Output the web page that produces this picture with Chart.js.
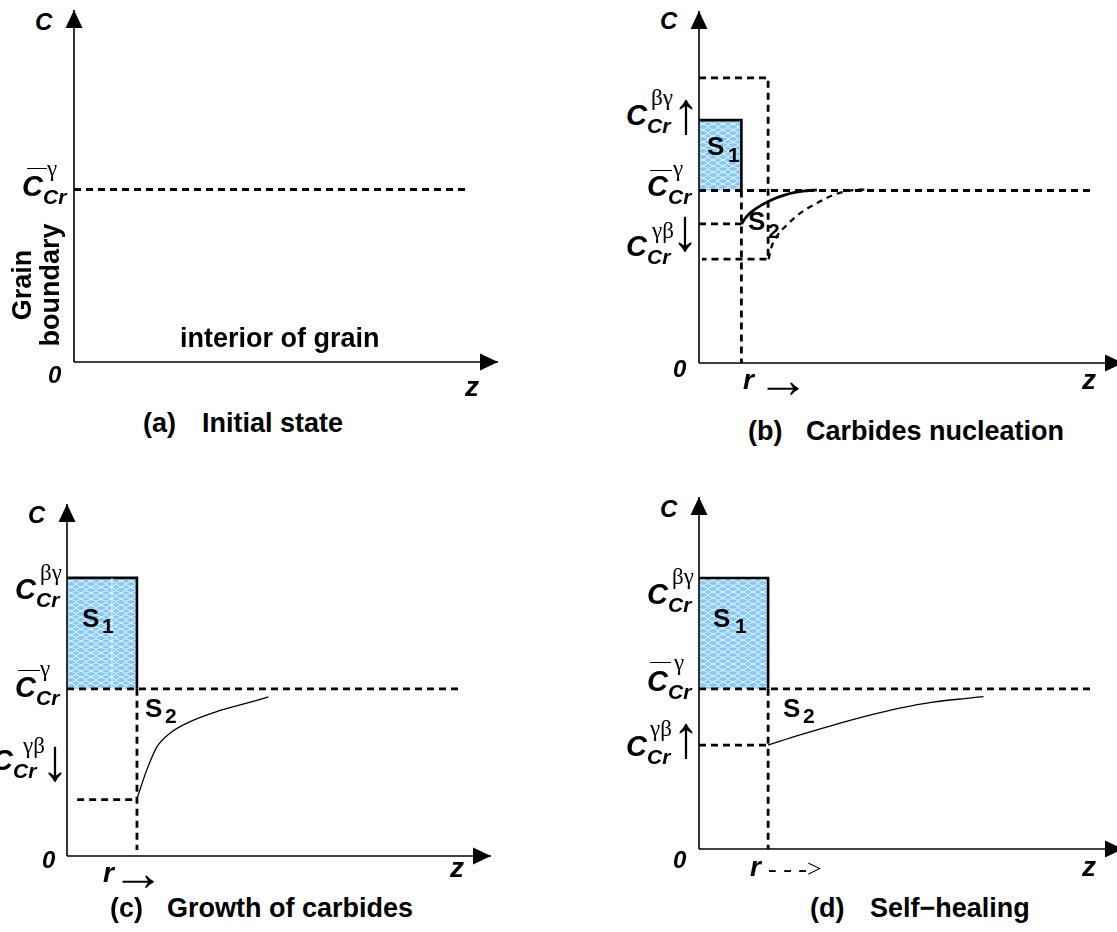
<!DOCTYPE html>
<html>
<head>
<meta charset="utf-8">
<script src="https://cdn.jsdelivr.net/npm/chart.js@4"></script>
<style>
  body { margin: 0; background: #fff; overflow: hidden; }
  #page { position: relative; width: 1117px; height: 932px; overflow: hidden; background: #fff; }
  #page canvas { position: absolute; }
  .t { position: absolute; line-height: 1; white-space: pre; color: #000; z-index: 2; }
  .bi { font-family: "Liberation Sans", Arial, sans-serif; font-weight: bold; font-style: italic; }
  .b { font-family: "Liberation Sans", Arial, sans-serif; font-weight: bold; }
  .g { font-family: "Liberation Serif", "Times New Roman", serif; }
  .vup { transform: scale(1.5, 1.65); }
  .hr { transform: scale(1.55, 1.5); transform-origin: left center; }
  .bar { position: absolute; height: 0; border-top: 1.5px solid #000; z-index: 2; }
  .gb { position: absolute; line-height: 28px; text-align: center; font-size: 27px; z-index: 2;
        transform: translate(-50%, -50%) rotate(-90deg); }
</style>
</head>
<body>
<div id="page"></div>
<script>
// axis ranges (schematic units)
const zRange = [0, 10];
const cRange = [0, 10];

// (a) initial state
const aMean = 4.9;
const aMeanEnd = 9.3;

// (b) carbides nucleation
const bMean = 4.9;
const bCarbideTop = 6.9;
const bR = 1.0;
const bInterface = 3.95;
const bTrialTop = 8.1;
const bTrialR = 1.63;
const bTrialLow = 2.95;
const bCurveZ = [1.0, 1.12, 1.36, 1.67, 2.07, 2.45, 2.78];
const bCurveC = [3.95, 4.16, 4.4, 4.61, 4.79, 4.88, 4.92];
const bTrialCurveZ = [1.64, 1.71, 1.83, 2.07, 2.38, 2.78, 3.16, 3.63, 3.96];
const bTrialCurveC = [2.95, 3.3, 3.59, 3.92, 4.25, 4.54, 4.77, 4.91, 4.93];

// (c) growth of carbides
const cMean = 4.75;
const cCarbideTop = 7.9;
const cR = 1.65;
const cInterface = 1.6;
const cCurveZ = [1.64, 1.72, 1.88, 2.12, 2.43, 2.82, 3.53, 4.24, 4.75];
const cCurveC = [1.59, 1.88, 2.44, 3.1, 3.49, 3.77, 4.1, 4.34, 4.52];

// (d) self-healing
const dMean = 4.55;
const dCarbideTop = 7.7;
const dR = 1.63;
const dInterface = 2.95;
const dCurveZ = [1.63, 2.38, 3.17, 3.96, 4.74, 5.52, 6.31, 6.71];
const dCurveC = [2.95, 3.24, 3.52, 3.78, 4.0, 4.17, 4.28, 4.33];

const meanEnd = 9.3;

// ---------- helpers ----------
const page = document.getElementById("page");
const AXIS_W = 424, AXIS_H = 352, PAD = 16;

function pts(zs, cs) {
  return zs.map((z, i) => ({ x: z, y: cs[i] }));
}

function meshPattern(ctx) {
  const c = document.createElement("canvas");
  c.width = 10; c.height = 6;
  const g = c.getContext("2d");
  g.fillStyle = "#86c8f6";
  g.fillRect(0, 0, 10, 6);
  g.strokeStyle = "rgba(255,255,255,0.8)";
  g.lineWidth = 1;
  g.beginPath();
  g.moveTo(0, 3); g.lineTo(5, 0.5); g.lineTo(10, 3);
  g.moveTo(0, 3); g.lineTo(5, 5.5); g.lineTo(10, 3);
  g.stroke();
  return ctx.createPattern(c, "repeat");
}

const dashed = (data, extra) => Object.assign({
  data, borderColor: "#000", borderWidth: 2.8, borderDash: [7, 5], order: 2
}, extra);
const solid = (data, width, extra) => Object.assign({
  data, borderColor: "#000", borderWidth: width, order: 1
}, extra);

function axes() {
  return [
    solid([{ x: 0, y: 0 }, { x: zRange[1], y: 0 }], 1.6, { arrow: true }),
    solid([{ x: 0, y: 0 }, { x: 0, y: cRange[1] }], 1.6, { arrow: true })
  ];
}

function carbide(ctx, top, r, mean) {
  return {
    data: [{ x: 0, y: top }, { x: r, y: top }, { x: r, y: mean }],
    borderColor: "#000", borderWidth: 2.6,
    backgroundColor: meshPattern(ctx),
    fill: { value: mean }, order: 10
  };
}

const arrowHeads = {
  id: "arrowHeads",
  afterDatasetsDraw(chart) {
    const ctx = chart.ctx;
    chart.data.datasets.forEach((ds, i) => {
      if (!ds.arrow) return;
      const els = chart.getDatasetMeta(i).data;
      const a = els[els.length - 2], b = els[els.length - 1];
      const ang = Math.atan2(b.y - a.y, b.x - a.x);
      ctx.save();
      ctx.translate(b.x, b.y);
      ctx.rotate(ang);
      ctx.beginPath();
      ctx.moveTo(0, 0);
      ctx.lineTo(-18, -8.5);
      ctx.lineTo(-18, 8.5);
      ctx.closePath();
      ctx.fillStyle = "#000";
      ctx.fill();
      ctx.restore();
    });
  }
};

function panel(ox, oy, buildDatasets) {
  const cv = document.createElement("canvas");
  cv.width = AXIS_W + 2 * PAD;
  cv.height = AXIS_H + 2 * PAD;
  cv.style.left = (ox - PAD) + "px";
  cv.style.top = (oy - AXIS_H - PAD) + "px";
  page.appendChild(cv);
  const ctx = cv.getContext("2d");
  const datasets = buildDatasets(ctx).map(ds => Object.assign({
    showLine: true, pointRadius: 0, pointHitRadius: 0, tension: 0,
    fill: false, clip: false
  }, ds));
  new Chart(cv, {
    type: "scatter",
    data: { datasets },
    options: {
      responsive: false,
      animation: false,
      devicePixelRatio: 1,
      events: [],
      layout: { padding: PAD },
      plugins: { legend: { display: false }, tooltip: { enabled: false } },
      scales: {
        x: { type: "linear", display: false, min: zRange[0], max: zRange[1] },
        y: { type: "linear", display: false, min: cRange[0], max: cRange[1] }
      }
    },
    plugins: [arrowHeads]
  });
}

// ---------- charts ----------
panel(74, 362, () => [
  ...axes(),
  dashed([{ x: 0, y: aMean }, { x: aMeanEnd, y: aMean }])
]);

panel(699, 363, (ctx) => [
  ...axes(),
  carbide(ctx, bCarbideTop, bR, bMean),
  dashed([{ x: 0, y: bMean }, { x: meanEnd, y: bMean }]),
  dashed([{ x: 0, y: bTrialTop }, { x: bTrialR, y: bTrialTop }, { x: bTrialR, y: bTrialLow }, { x: 0.07, y: bTrialLow }]),
  dashed([{ x: 0, y: bInterface }, { x: bR, y: bInterface }]),
  dashed([{ x: bR, y: bMean }, { x: bR, y: 0 }]),
  solid(pts(bCurveZ, bCurveC), 2.8, { cubicInterpolationMode: "monotone" }),
  dashed(pts(bTrialCurveZ, bTrialCurveC), { borderWidth: 2.3, borderDash: [6, 5], cubicInterpolationMode: "monotone" })
]);

panel(67, 856, (ctx) => [
  ...axes(),
  carbide(ctx, cCarbideTop, cR, cMean),
  solid([{ x: 1.06, y: cMean }, { x: 1.06, y: cCarbideTop }], 1, { borderColor: "rgba(255,255,255,0.9)", order: 5 }),
  dashed([{ x: 0, y: cMean }, { x: meanEnd, y: cMean }]),
  dashed([{ x: 0.24, y: cInterface }, { x: cR, y: cInterface }]),
  dashed([{ x: cR, y: cMean }, { x: cR, y: 0.17 }]),
  solid(pts(cCurveZ, cCurveC), 1.3, { cubicInterpolationMode: "monotone" })
]);

panel(699, 849, (ctx) => [
  ...axes(),
  carbide(ctx, dCarbideTop, dR, dMean),
  dashed([{ x: 0, y: dMean }, { x: meanEnd, y: dMean }]),
  dashed([{ x: 0, y: dInterface }, { x: dR, y: dInterface }]),
  dashed([{ x: dR, y: dMean }, { x: dR, y: 0 }]),
  solid(pts(dCurveZ, dCurveC), 1.3, { cubicInterpolationMode: "monotone" })
]);

// ---------- text ----------
const ASC = { bi: 0.846, b: 0.846, g: 0.838, "g vup": 0.838, "g hr": 0.838 };
function put(text, x, base, size, cls) {
  const s = document.createElement("span");
  s.className = "t " + cls;
  s.textContent = text;
  s.style.fontSize = size + "px";
  s.style.left = x + "px";
  s.style.top = (base - ASC[cls] * size) + "px";
  page.appendChild(s);
  return s;
}
// tall thin vertical arrow placed by the centre of its ink
function vArrow(ch, x, cy) {
  const s = put(ch, x, 0, 36, "g vup");
  s.style.top = (cy - 3.6 - 18) + "px";
}
function hArrow(x, base) {
  put("→", x - 11, base, 34, "g hr");
}
function bar(x1, x2, y) {
  const d = document.createElement("div");
  d.className = "bar";
  d.style.left = x1 + "px";
  d.style.width = (x2 - x1) + "px";
  d.style.top = y + "px";
  page.appendChild(d);
}
// C_Cr with superscript
function conc(x, base, sup, supX, supBase) {
  put("C", x, base, 29, "bi");
  put("Cr", x + 21, base + 7, 21, "bi");
  put(sup, supX, supBase, 23, "g");
}

// (a)
put("C", 35, 30, 24, "bi");
conc(22, 197, "γ", 47, 176); bar(27, 47, 168);
const gb = document.createElement("div");
gb.className = "gb b";
gb.innerHTML = "Grain<br>boundary";
gb.style.left = "36px"; gb.style.top = "285px";
page.appendChild(gb);
put("interior of grain", 180, 348, 27, "b");
put("0", 48, 383, 24, "bi");
put("z", 465, 397, 28, "bi");
put("(a)", 143, 433, 27, "b");
put("Initial state", 202, 433, 27, "b");

// (b)
put("C", 660, 29, 24, "bi");
conc(626, 126, "βγ", 651, 105); vArrow("↑", 677, 116.5);
conc(647, 197, "γ", 673, 176); bar(650, 672, 170);
conc(626, 257, "γβ", 652, 238); vArrow("↓", 676, 233.5);
put("S", 707, 155, 26, "b"); put("1", 728, 162, 21, "b");
put("S", 748, 230, 26, "b"); put("2", 768, 238, 21, "b");
put("0", 673, 377, 24, "bi");
put("r", 743, 390, 28, "bi"); hArrow(768, 391);
put("z", 1082, 390, 28, "bi");
put("(b)", 748, 441, 27, "b");
put("Carbides nucleation", 806, 441, 27, "b");

// (c)
put("C", 28, 523, 24, "bi");
conc(15, 600, "βγ", 40, 580);
conc(15, 698, "γ", 40, 676); bar(18, 40, 670);
conc(-8, 771, "γβ", 23, 753); vArrow("↓", 46, 763.5);
put("S", 82, 627, 26, "b"); put("1", 102, 633, 21, "b");
put("S", 145, 717, 26, "b"); put("2", 165, 723, 21, "b");
put("0", 42, 868, 24, "bi");
put("r", 103, 883, 28, "bi"); hArrow(123, 884);
put("z", 450, 878, 28, "bi");
put("(c)", 110, 918, 27, "b");
put("Growth of carbides", 167, 918, 27, "b");

// (d)
put("C", 660, 517, 24, "bi");
conc(647, 605, "βγ", 672, 584);
conc(647, 692, "γ", 674, 670); bar(650, 671, 662);
conc(626, 757, "γβ", 650, 736); vArrow("↑", 677, 740.5);
put("S", 713, 627, 26, "b"); put("1", 735, 633, 21, "b");
put("S", 783, 717, 26, "b"); put("2", 803, 723, 21, "b");
put("0", 673, 868, 24, "bi");
put("r", 750, 877, 28, "bi"); put("- - ->", 768, 878, 26, "g");
put("z", 1082, 877, 28, "bi");
put("(d)", 810, 918, 27, "b");
put("Self−healing", 870, 918, 27, "b");
</script>
</body>
</html>
